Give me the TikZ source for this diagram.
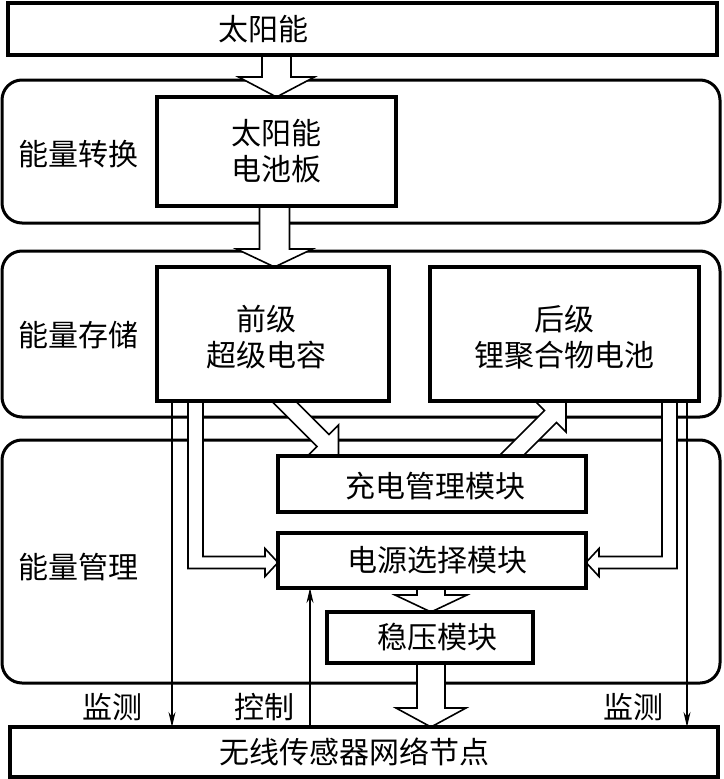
\documentclass[tikz,border=0pt]{standalone}
\usepackage{fontspec}
\setmainfont{Noto Sans CJK SC}
\usetikzlibrary{calc,arrows.meta}
\pgfdeclarelayer{bg}
\pgfdeclarelayer{mid}
\pgfsetlayers{bg,mid,main}
\tikzset{
  box/.style={draw,fill=white,line width=3.2pt,rectangle,inner sep=0pt,outer sep=0pt},
  region/.style={draw,line width=3pt,rectangle,rounded corners=20pt,inner sep=0pt,outer sep=0pt},
  txt/.style={font=\fontsize{30}{36}\selectfont,align=center,inner sep=0pt},
  hollow/.style={draw,fill=white,line width=1.6pt,line join=miter},
  sig/.style={line width=1.5pt,-{Stealth[length=15pt,width=7pt]}},
}
% #1 start, #2 tip, #3 shaft half width, #4 head half width, #5 head length
\newcommand\blockarrow[5]{%
  \coordinate (ba-s) at #1;
  \coordinate (ba-e) at #2;
  \coordinate (ba-h) at ($(ba-e)!#5!(ba-s)$);
  \draw[hollow] ($(ba-s)!#3!90:(ba-e)$) -- ($(ba-h)!#3!90:(ba-e)$) -- ($(ba-h)!#4!90:(ba-e)$) -- (ba-e) -- ($(ba-h)!#4!-90:(ba-e)$) -- ($(ba-h)!#3!-90:(ba-e)$) -- ($(ba-s)!#3!-90:(ba-e)$) -- cycle;}
\begin{document}
\begin{tikzpicture}[x=1pt,y=-1pt]
\useasboundingbox (0,0) rectangle (723,779);
% regions
\begin{pgfonlayer}{bg}
\node[region,minimum width=718pt,minimum height=143pt] (r1) at (361,151.5) {};
\node[region,minimum width=718pt,minimum height=166pt] (r2) at (361,334) {};
\node[region,minimum width=718pt,minimum height=243pt] (r3) at (361,561.5) {};
\end{pgfonlayer}
\node[txt] (l1) at (78,154) {能量转换};
\node[txt] (l2) at (78,335) {能量存储};
\node[txt] (l3) at (78,567) {能量管理};
% boxes
\node[box,minimum width=709pt,minimum height=52pt,label={[txt,xshift=-99.5pt]center:太阳能}] (sun) at (362.5,29) {};
\node[box,minimum width=239pt,minimum height=109pt,label={[txt]center:太阳能\\电池板}] (solar) at (276.5,151.5) {};
\node[box,minimum width=232pt,minimum height=134pt,label={[txt,xshift=-7pt,yshift=-3pt]center:前级\\超级电容}] (cap) at (273,334) {};
\node[box,minimum width=269pt,minimum height=134pt,label={[txt,yshift=-3pt]center:后级\\锂聚合物电池}] (bat) at (564.5,334) {};
\node[box,minimum width=308pt,minimum height=56pt,label={[txt,xshift=3.5pt,yshift=-2pt]center:充电管理模块}] (chg) at (432,484) {};
\node[box,minimum width=308pt,minimum height=55pt,label={[txt,xshift=5pt]center:电源选择模块}] (sel) at (432,560.5) {};
\node[box,minimum width=206pt,minimum height=51pt,label={[txt,xshift=7pt]center:稳压模块}] (reg) at (430,637.5) {};
\node[box,minimum width=708pt,minimum height=50pt,label={[txt,xshift=-10pt]center:无线传感器网络节点}] (wsn) at (364,752) {};
% hollow arrows
\begin{pgfonlayer}{mid}
\blockarrow{($(solar.north |- sun.south)+(0,-5)$)}{(solar.north)}{14.5pt}{38pt}{20pt}
\blockarrow{($(solar.south)+(-2,-5)$)}{($(solar.south |- cap.north)+(-2,0)$)}{15pt}{38pt}{18pt}
\blockarrow{($(sel.south)+(-1,-5)$)}{($(sel.south |- reg.north)+(-1,0)$)}{14pt}{36pt}{17pt}
\blockarrow{($(reg.south)+(1,-5)$)}{($(reg.south |- wsn.north)+(1,0)$)}{14pt}{35pt}{19pt}
\blockarrow{($(cap.south west)+(111.5,-15)$)}{($(chg.north west)+(60.5,0)$)}{8.5pt}{22pt}{22pt}
\blockarrow{($(chg.north west)+(217,16)$)}{($(bat.south west)+(136,0)$)}{8.5pt}{22pt}{22pt}
% left L arrow
\coordinate (Lt) at ($(sel.west)+(0,2)$);
\coordinate (Lo) at ($(Lt)+(0,6)$);
\coordinate (Li) at ($(Lt)+(0,-6)$);
\coordinate (Lh) at ($(Lt)+(-13,0)$);
\coordinate (L1) at ($(cap.south west)+(31,-5)$);
\coordinate (L2) at ($(cap.south west)+(46,-5)$);
\draw[hollow] (L1) -- (L1 |- Lo) -- (Lh |- Lo) -- ($(Lh)+(0,14)$) -- (Lt) -- ($(Lh)+(0,-14)$) -- (Lh |- Li) -- (L2 |- Li) -- (L2) -- cycle;
% right L arrow
\coordinate (Rt) at ($(sel.east)+(0,2)$);
\coordinate (Ro) at ($(Rt)+(0,6)$);
\coordinate (Ri) at ($(Rt)+(0,-6)$);
\coordinate (Rh) at ($(Rt)+(13,0)$);
\coordinate (R1) at ($(bat.south west)+(247,-5)$);
\coordinate (R2) at ($(bat.south west)+(232,-5)$);
\draw[hollow] (R1) -- (R1 |- Ro) -- (Rh |- Ro) -- ($(Rh)+(0,14)$) -- (Rt) -- ($(Rh)+(0,-14)$) -- (Rh |- Ri) -- (R2 |- Ri) -- (R2) -- cycle;
\end{pgfonlayer}
% signal lines
\coordinate (m1) at ($(cap.south west)+(15,0)$);
\draw[sig] (m1) -- (m1 |- wsn.north);
\coordinate (m2) at ($(bat.south east)+(-12,0)$);
\draw[sig] (m2) -- (m2 |- wsn.north);
\coordinate (c1) at ($(sel.south west)+(32,0)$);
\draw[sig] (c1 |- wsn.north) -- (c1);
\node[txt] (m1t) at (112,707) {监测};
\node[txt] (ct) at (264,707) {控制};
\node[txt] (m2t) at (633,707) {监测};
\end{tikzpicture}
\end{document}
